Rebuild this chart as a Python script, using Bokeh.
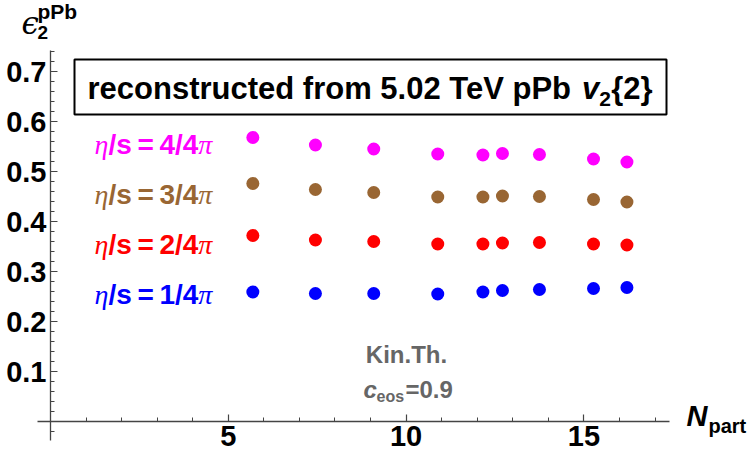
from bokeh.plotting import figure
from bokeh.models import Label, BoxAnnotation, FixedTicker, LinearAxis, Range1d
from bokeh.embed import file_html
from bokeh.resources import INLINE

# ---------------- data ----------------
n_part = [5.69, 7.45, 9.09, 10.89, 12.16, 12.71, 13.75, 15.27, 16.21]
eps2_eta4 = [0.568, 0.553, 0.545, 0.535, 0.533, 0.536, 0.534, 0.525, 0.519]
eps2_eta3 = [0.476, 0.464, 0.458, 0.449, 0.449, 0.451, 0.450, 0.444, 0.439]
eps2_eta2 = [0.372, 0.363, 0.360, 0.355, 0.355, 0.357, 0.358, 0.355, 0.353]
eps2_eta1 = [0.259, 0.256, 0.256, 0.255, 0.259, 0.262, 0.264, 0.266, 0.268]
series_num = ["4", "3", "2", "1"]
series_vals = [eps2_eta4, eps2_eta3, eps2_eta2, eps2_eta1]
series_colors = ["#FF00FF", "#996633", "#FF0000", "#0000FF"]

x_major = [5, 10, 15]
x_minor = [1, 2, 3, 4, 6, 7, 8, 9, 11, 12, 13, 14, 16, 17]
y_major = [0.1, 0.2, 0.3, 0.4, 0.5, 0.6, 0.7]
y_minor = [round(k * 0.02, 2) for k in range(-1, 38) if k % 5 != 0]
x_axis_span = (-0.37, 17.4)
y_axis_span = (-0.038, 0.742)

# ---------------- geometry: frame covers the whole canvas ----------------
W, H = 750, 465
PX_X, PX_Y = 35.56, 500.0          # pixels per data unit
ORIG_PX, ORIG_PY = 50.0, 421.0     # pixel position of the origin
X0 = -ORIG_PX / PX_X
X1 = X0 + W / PX_X
Y1 = ORIG_PY / PX_Y
Y0 = Y1 - H / PX_Y


def dx(px):
    return X0 + px / PX_X


def dy(py):
    return Y1 - py / PX_Y


p = figure(width=W, height=H, x_range=Range1d(X0, X1), y_range=Range1d(Y0, Y1),
           output_backend="svg", toolbar_location=None,
           x_axis_location=None, y_axis_location=None,
           min_border_left=0, min_border_right=0,
           min_border_top=0, min_border_bottom=0)
p.grid.grid_line_color = None
p.outline_line_color = None
p.background_fill_color = "white"
p.border_fill_color = "white"

AX = "#444444"
xax = LinearAxis(fixed_location=0, bounds=x_axis_span,
                 ticker=FixedTicker(ticks=x_major, minor_ticks=x_minor))
yax = LinearAxis(fixed_location=0, bounds=y_axis_span,
                 ticker=FixedTicker(ticks=y_major, minor_ticks=y_minor))
for ax in (xax, yax):
    ax.axis_line_color = AX
    ax.axis_line_width = 1.3
    ax.major_tick_line_color = AX
    ax.minor_tick_line_color = AX
    ax.major_tick_line_width = 1.2
    ax.minor_tick_line_width = 1.0
    ax.major_tick_in = 7
    ax.major_tick_out = 0
    ax.minor_tick_in = 4
    ax.minor_tick_out = 0
    ax.major_label_text_font = "Liberation Sans"
    ax.major_label_text_font_style = "bold"
    ax.major_label_text_font_size = "29px"
    ax.major_label_text_color = "black"
xax.major_label_standoff = 4
yax.major_label_standoff = 4
p.add_layout(xax, "below")
p.add_layout(yax, "left")

for vals, col in zip(series_vals, series_colors):
    p.scatter(n_part, vals, size=13, fill_color=col, line_color=None)

BASE_FIX = 0.35  # renderer places the alphabetic baseline ~0.35em low


def lab(px, py, text, size, color="black", font="Liberation Sans", style="bold", align="left"):
    p.add_layout(Label(x=dx(px), y=dy(py - BASE_FIX * size), x_units="data", y_units="data",
                       text=text, text_font=font, text_font_size=f"{size}px",
                       text_font_style=style, text_color=color, text_align=align,
                       text_baseline="alphabetic"))


# y-axis label  ϵ_2^pPb
lab(21, 33, "\u03f5", 31, font="DejaVu Serif", style="italic")
lab(37, 39, "2", 19)
lab(37, 18, "pPb", 21)

# x-axis label  N_part
lab(686, 426, "N", 29, style="bold italic")
lab(708, 432, "part", 20)

# title box
p.add_layout(BoxAnnotation(left=dx(74), right=dx(666), top=dy(59), bottom=dy(114),
                           fill_color=None, fill_alpha=0, line_color="black",
                           line_alpha=1.0, line_width=2))
TS = 31
lab(87, 99, "reconstructed from 5.02 TeV pPb ", TS)
x_v = 87 + 15.949 * TS
lab(x_v, 99, "v", TS, style="bold italic")
lab(x_v + 0.556 * TS, 106, "2", 21)
lab(x_v + 0.556 * TS + 12, 99, "{2}", TS)

# series labels  η/s=k/4π
LS = 28
for i, (num, col) in enumerate(zip(series_num, series_colors)):
    base = 154 + 50 * i
    lab(94, base, "\u03b7", LS, color=col, font="Liberation Serif", style="italic")
    main = "/s\u2009=\u2009" + num + "/4"
    lab(94 + 0.5 * LS, base, main, LS, color=col)
    w_main = (0.278 + 0.556 + 0.2 + 0.584 + 0.2 + 0.556 + 0.278 + 0.556) * LS
    lab(94 + 0.5 * LS + w_main, base, "\u03c0", LS, color=col, font="Liberation Serif", style="italic")

# model annotation
GR = "#666666"
lab(406, 362, "Kin.Th.", 24, color=GR, align="center")
lab(363, 397, "c", 24, color=GR, style="bold italic")
lab(376, 402, "eos", 16, color=GR)
lab(405, 397, "=0.9", 24, color=GR)

open("out.html", "w").write(file_html(p, INLINE))
